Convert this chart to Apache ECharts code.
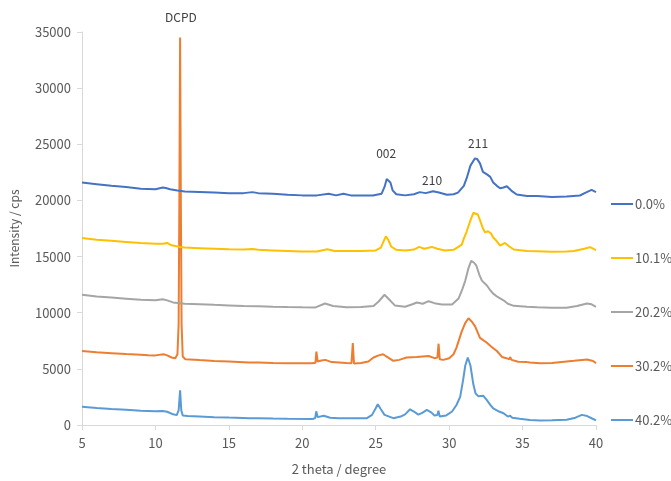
<!DOCTYPE html>
<html>
<head>
<meta charset="utf-8">
<script src="https://cdn.jsdelivr.net/npm/echarts@6/dist/echarts.min.js"></script>
<style>html,body{margin:0;padding:0;background:#fff}#c{width:671px;height:481px}</style>
</head>
<body>
<div id="c"></div>
<script>
const seriesNames = ['0.0%', '10.1%', '20.2%', '30.2%', '40.2%'];
const colors = ['#4472C4', '#FFC000', '#A5A5A5', '#ED7D31', '#5B9BD5'];

const x00 = [5,6,7,8,9,10,10.5,10.7,11.0,11.5,12,13,14,15,16,16.6,17,18,19,20,21,21.8,22.3,22.8,23.3,24,24.8,25.4,25.6,25.75,25.87,26.0,26.15,26.4,27,27.6,28.0,28.4,28.9,29.3,29.85,30.3,30.6,31.0,31.2,31.45,31.75,31.9,32.1,32.3,32.6,32.8,33.0,33.25,33.47,33.7,33.93,34.3,34.6,35.3,36,37,38,38.9,39.3,39.7,40];
const y00 = [21600,21450,21300,21200,21050,21000,21150,21100,21000,20880,20800,20750,20700,20650,20650,20740,20650,20600,20500,20450,20450,20590,20450,20590,20450,20440,20440,20600,21200,21900,22050,21600,20900,20550,20450,20550,20740,20650,20825,20700,20500,20550,20700,21300,22000,23100,23740,23700,23300,22550,22300,22100,21600,21300,21090,21150,21260,20800,20530,20390,20400,20300,20350,20440,20700,20940,20740];

const x10 = [5,6,7,8,9,10,10.5,10.8,11.1,11.7,12,13,14,15,16,16.6,17,18,19,20,21,21.7,22.2,23,24,25,25.35,25.55,25.69,25.85,26.05,26.4,27,27.6,27.96,28.3,28.82,29.2,29.7,30.3,30.86,31.0,31.2,31.43,31.65,31.77,31.95,32.1,32.3,32.45,32.65,32.85,33.0,33.25,33.47,33.8,34.1,34.4,35.3,36,37,38,38.5,39.2,39.6,40];
const y10 = [16650,16500,16400,16300,16200,16150,16150,16210,16000,15860,15800,15750,15700,15650,15630,15680,15600,15550,15500,15450,15450,15650,15500,15500,15500,15550,15800,16400,16800,16500,15900,15600,15550,15620,15860,15700,15860,15700,15540,15600,16070,16600,17250,18150,18900,18990,18750,18250,17500,17150,17250,17050,16700,16360,15980,16210,15900,15630,15490,15470,15440,15460,15500,15700,15840,15575];

const x20 = [5,6,7,8,9,10,10.5,10.8,11.2,12,13,14,15,16,17,18,19,20,20.9,21.55,22.1,23,24,24.85,25.2,25.6,25.9,26.3,27,27.5,27.8,28.2,28.6,29.0,29.5,30.2,30.64,30.9,31.1,31.3,31.5,31.7,31.85,32.05,32.23,32.57,32.8,33.0,33.3,33.7,34.0,34.4,35.3,36,37,38,38.7,39.4,39.7,40];
const y20 = [11600,11450,11350,11250,11150,11100,11200,11100,10920,10800,10760,10700,10650,10600,10570,10530,10500,10480,10470,10820,10600,10480,10500,10590,11000,11600,11200,10650,10530,10750,10910,10800,11025,10850,10740,10740,11260,12100,12860,13900,14610,14450,14200,13400,12860,12425,12000,11700,11400,11110,10800,10610,10530,10480,10450,10440,10600,10820,10750,10530];

const x30 = [5,6,7,8,9,9.5,10,10.55,10.8,11.1,11.35,11.5,11.58,11.63,11.68,11.73,11.78,11.86,12.04,13,14,15,16.36,17,18,19,20.67,20.9,20.96,21.05,21.3,21.57,22,23,23.35,23.44,23.52,24,24.5,24.85,25.2,25.5,25.8,26.2,26.6,27.1,27.8,28.6,29.0,29.2,29.28,29.36,29.6,30.0,30.3,30.5,30.86,31.1,31.32,31.55,31.77,32.1,32.57,32.9,33.25,33.6,33.9,34.1,34.15,34.25,34.7,35.3,35.4,35.5,36.2,37,38.5,39.4,39.8,40];
const y30 = [6590,6480,6400,6320,6250,6210,6200,6300,6200,6010,5950,6300,9000,20000,34500,20000,9000,6100,5860,5780,5700,5650,5570,5560,5530,5510,5490,5550,6540,5650,5750,5800,5600,5520,5500,7300,5480,5520,5650,6010,6200,6300,6050,5715,5800,6010,6060,6150,5950,6000,7240,5850,5800,5950,6300,6890,8340,9100,9510,9200,8780,7760,7320,6950,6590,6060,5950,5850,6060,5800,5630,5600,5720,5560,5510,5530,5715,5830,5700,5510];

const x40 = [5,6,7,8,9,10,10.5,10.8,11.2,11.45,11.58,11.68,11.76,11.86,12.2,13,14,15,16.4,17,18,19,20.7,20.88,20.95,21.05,21.46,21.9,22.5,23.4,23.45,23.5,24.4,24.75,25.0,25.14,25.35,25.6,26.2,26.7,27.0,27.34,27.6,27.9,28.2,28.48,28.8,29.0,29.2,29.27,29.36,29.8,30.2,30.5,30.75,30.95,31.1,31.27,31.45,31.65,31.8,32.0,32.33,32.57,32.8,33.0,33.4,33.7,34.0,34.15,34.3,34.8,35.5,36.2,37,38,38.6,39.04,39.4,39.7,40];
const y40 = [1630,1520,1420,1350,1270,1220,1250,1180,950,880,1300,3090,1300,850,800,760,700,660,610,600,570,550,525,620,1220,700,830,650,600,600,680,600,610,900,1500,1840,1400,900,610,750,950,1400,1200,920,1100,1340,1100,850,900,1280,760,850,1200,1780,2510,4000,5300,6010,5300,3600,2800,2550,2600,2210,1800,1490,1200,1050,750,830,650,560,450,410,420,460,650,900,800,600,410];

const xTicks = [5, 10, 15, 20, 25, 30, 35, 40];
const yTicks = [0, 5000, 10000, 15000, 20000, 25000, 30000, 35000];

// annotation labels placed in data units (degree, cps)
const annoText = ['DCPD', '002', '210', '211'];
const annoX = [11.74, 25.71, 28.84, 31.97];
const annoY = [36300, 24150, 21790, 25110];

const xs = [x00, x10, x20, x30, x40];
const ys = [y00, y10, y20, y30, y40];

const font = "'Noto Sans CJK JP', 'Noto Sans', sans-serif";
const txt = '#595959';

const series = seriesNames.map((name, i) => ({
  name: name,
  type: 'line',
  data: xs[i].map((x, j) => [x, ys[i][j]]),
  symbol: 'none',
  showSymbol: false,
  lineStyle: { width: 2, color: colors[i] },
  itemStyle: { color: colors[i] },
  clip: false,
  z: 10 - i
}));

const chart = echarts.init(document.getElementById('c'), null, { renderer: 'canvas' });
chart.setOption({
  animation: false,
  backgroundColor: '#fff',
  grid: { left: 82, right: 75, top: 32, bottom: 49, containLabel: false },
  legend: {
    orient: 'vertical', left: 606, top: 192,
    itemWidth: 22, itemHeight: 2, itemGap: 40,
    icon: 'path://M0,0 L22,0 L22,2 L0,2 Z',
    itemStyle: { borderWidth: 0 },
    textStyle: { color: txt, fontSize: 13, fontFamily: font, lineHeight: 14, padding: [0, 0, 0, -3] },
    data: seriesNames
  },
  xAxis: {
    type: 'value', min: xTicks[0], max: xTicks[xTicks.length - 1], interval: 5,
    name: '2 theta / degree', nameLocation: 'middle', nameGap: 38,
    nameTextStyle: { color: txt, fontSize: 13, fontFamily: font },
    axisLine: { show: true, lineStyle: { color: '#D9D9D9', width: 1 } },
    axisTick: { show: true, length: 5, lineStyle: { color: '#D9D9D9' } },
    axisLabel: { color: txt, fontSize: 13, fontFamily: font, margin: 12 },
    splitLine: { show: false }
  },
  yAxis: {
    type: 'value', min: yTicks[0], max: yTicks[yTicks.length - 1], interval: 5000,
    name: 'Intensity / cps', nameLocation: 'middle', nameGap: 62,
    nameTextStyle: { color: txt, fontSize: 12, fontFamily: font },
    axisLine: { show: true, lineStyle: { color: '#D9D9D9', width: 1 } },
    axisTick: { show: true, length: 5, lineStyle: { color: '#D9D9D9' } },
    axisLabel: { color: txt, fontSize: 13, fontFamily: font, margin: 11, formatter: v => String(v) },
    splitLine: { show: false }
  },
  series: series
});

chart.setOption({
  graphic: annoText.map((t, k) => {
    const p = chart.convertToPixel({ gridIndex: 0 }, [annoX[k], annoY[k]]);
    return {
      type: 'text', x: p[0], y: p[1], z: 100,
      style: { text: t, fill: '#404040', fontSize: 12, fontFamily: font, align: 'center', verticalAlign: 'middle' }
    };
  })
});
</script>
</body>
</html>
